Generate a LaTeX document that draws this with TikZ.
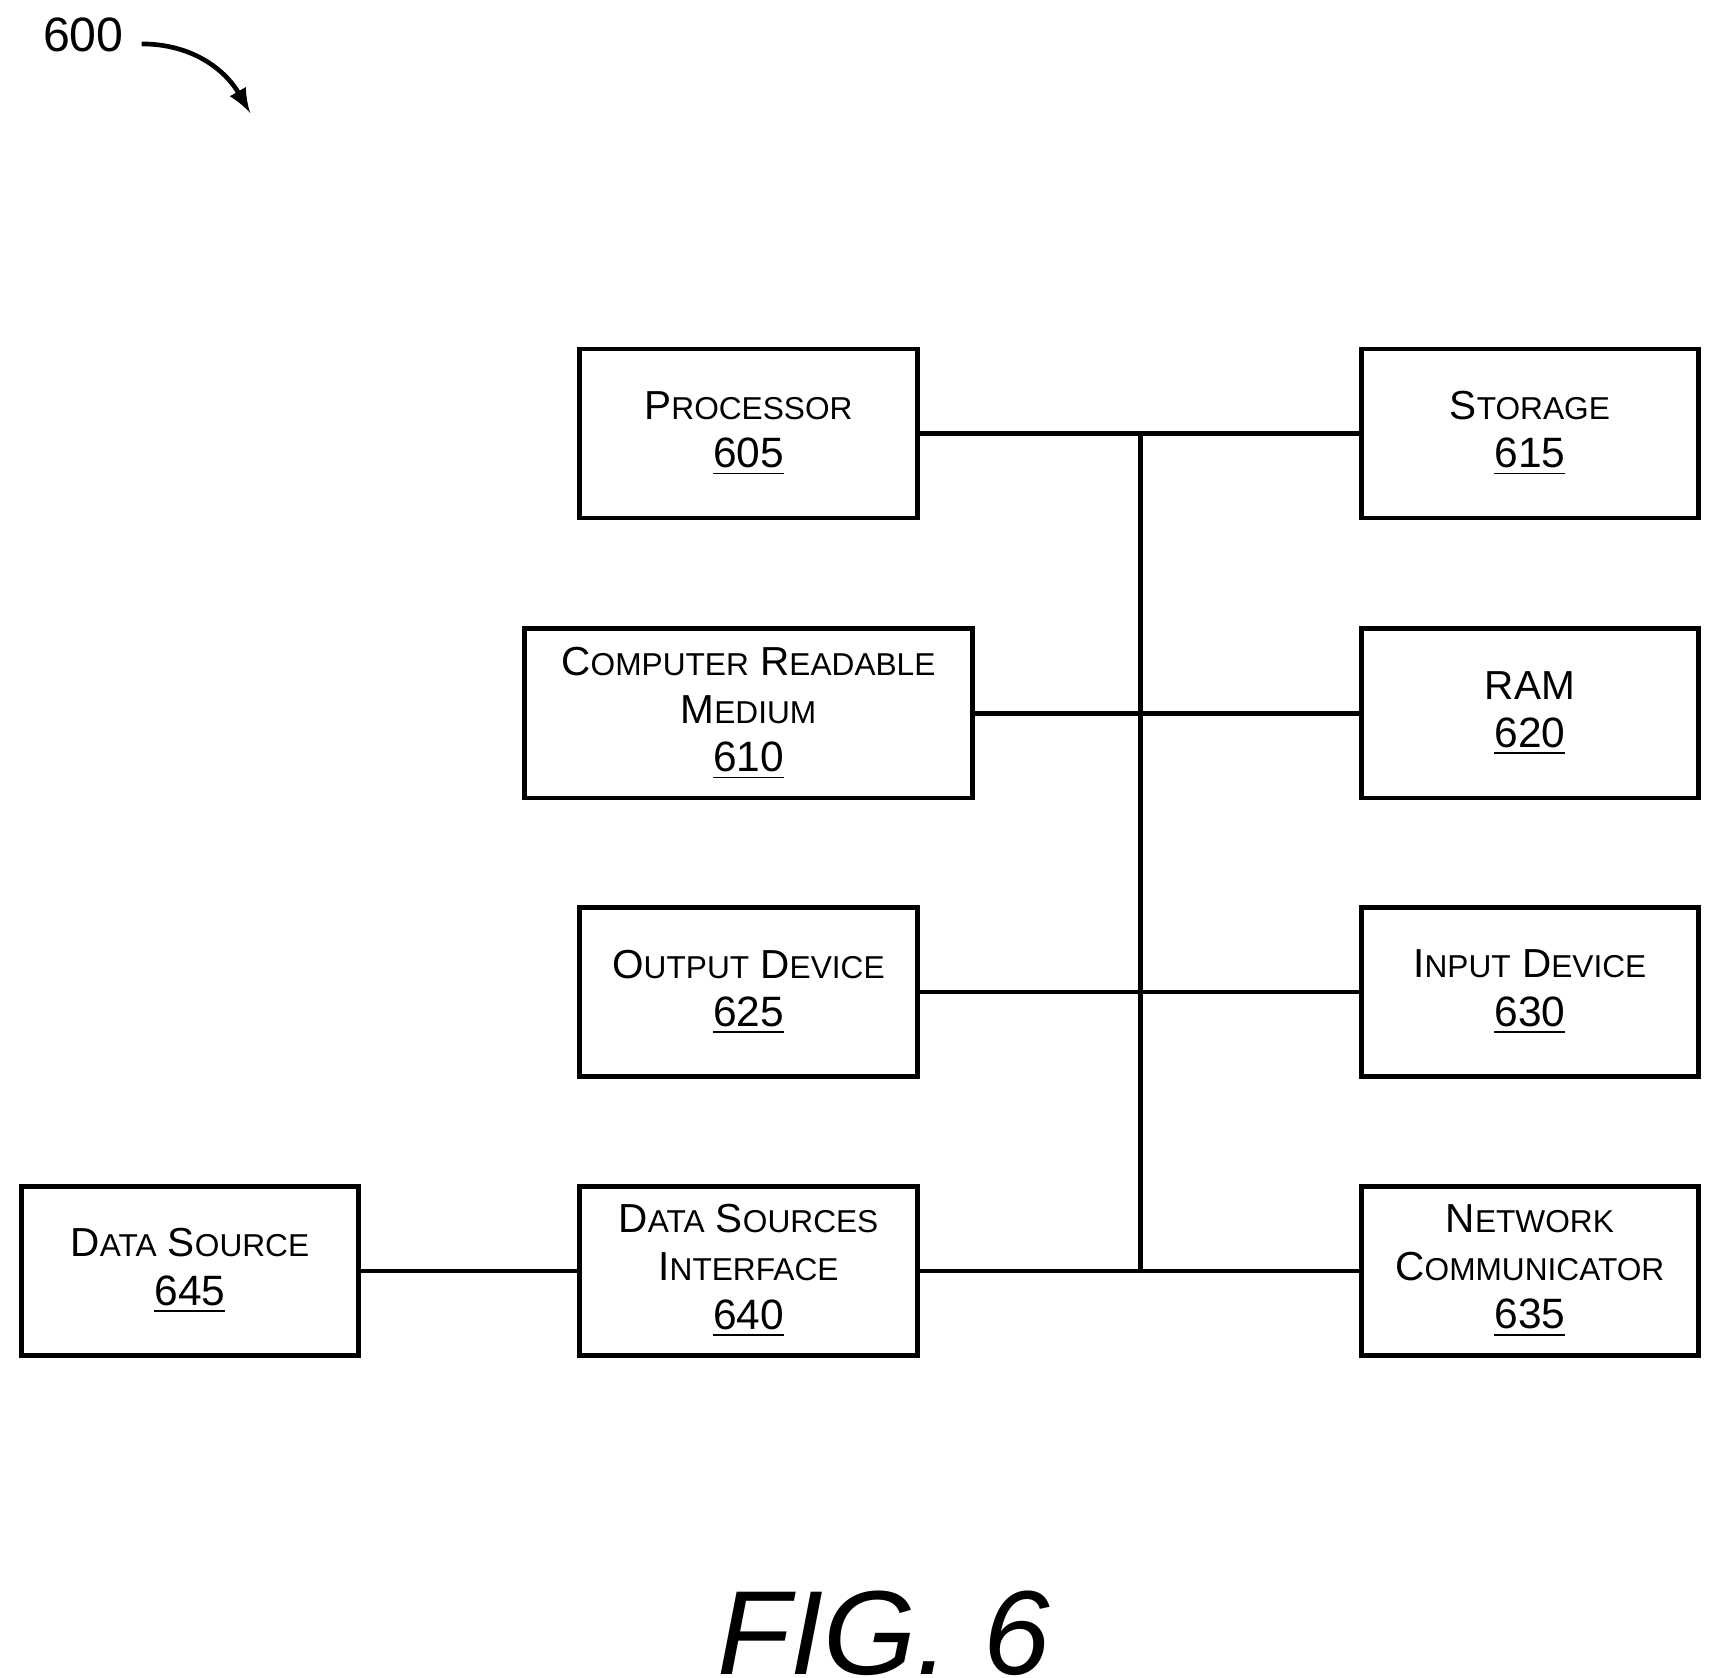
\documentclass[tikz,border=0pt]{standalone}
\usepackage{fontspec}
\setmainfont{Liberation Sans}
\newcommand{\smc}[2]{{\fontsize{10.5}{12}\selectfont #1}{\fontsize{8.2}{12}\selectfont #2}}
\newcommand{\refnum}[1]{{\fontsize{11}{12}\selectfont\underline{#1}}}
\begin{document}
\begin{tikzpicture}[x=0.01cm,y=-0.01cm]
	\tikzstyle{block} = [draw, line width=1.2pt, minimum height=1.54cm, align=center, inner sep=0pt, font=\fontsize{10.5}{12.5}\selectfont]
	\tikzstyle{bus} = [line width=1.2pt]
	\useasboundingbox (0,0) rectangle (1560,1529);

	\foreach \name/\x/\y/\w/\txt in {
		proc/682/395/3.08/{\smc{P}{ROCESSOR}\\\refnum{605}},
		stor/1394/395/3.07/{\smc{S}{TORAGE}\\\refnum{615}},
		crm/682/650/4.08/{\smc{C}{OMPUTER} \smc{R}{EADABLE}\\\smc{M}{EDIUM}\\\refnum{610}},
		ram/1394/650/3.07/{\smc{RAM}{}\\\refnum{620}},
		outd/682/904/3.08/{\smc{O}{UTPUT} \smc{D}{EVICE}\\\refnum{625}},
		ind/1394/904/3.07/{\smc{I}{NPUT} \smc{D}{EVICE}\\\refnum{630}},
		dsi/682/1158/3.08/{\smc{D}{ATA} \smc{S}{OURCES}\\\smc{I}{NTERFACE}\\\refnum{640}},
		netc/1394/1158/3.07/{\smc{N}{ETWORK}\\\smc{C}{OMMUNICATOR}\\\refnum{635}},
		dsrc/173/1158/3.07/{\smc{D}{ATA} \smc{S}{OURCE}\\\refnum{645}}}
		\node[block, minimum width=\w cm] (\name) at (\x,\y) {\txt};

	% bus
	\coordinate (top) at (1039,395);
	\coordinate (bot) at (1039,1158);
	\draw[bus] (top) -- (bot);
	\foreach \n in {proc, stor, crm, ram, outd, ind, dsi, netc}
		\draw[bus] (\n) -- (\n -| top);
	\draw[bus] (dsrc) -- (dsi);

	% figure label
	\node[font=\fontsize{12.5}{14}\selectfont] (lbl) at (76,32) {600};
	\coordinate (tip) at (228,103);
	\draw[line width=1.2pt, -latex] (lbl.east) ++(4,8) to[out=0,in=120] (tip);
	\node[font=\fontsize{31}{34}\selectfont\itshape] (fig) at (805,1488) {FIG. 6};
\end{tikzpicture}
\end{document}
